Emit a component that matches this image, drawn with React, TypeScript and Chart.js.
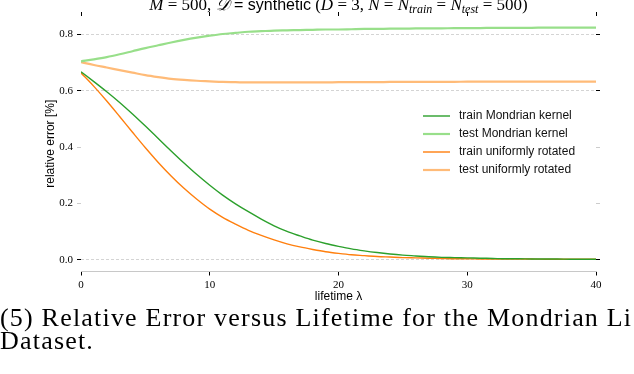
import React, { useEffect, useRef } from 'react';
import { Chart, registerables } from 'chart.js';

Chart.register(...registerables);

const lambdas = [0, 1, 2, 3, 4, 5, 6, 7, 8, 9, 10, 11, 12, 13, 14, 15, 16, 17, 18, 19, 20, 21, 22, 23, 24, 25, 26, 27, 28, 29, 30, 31, 32, 33, 34, 35, 36, 37, 38, 39, 40];

const trainMondrian = [0.668, 0.633, 0.597, 0.559, 0.518, 0.475, 0.431, 0.387, 0.344, 0.303, 0.265, 0.230, 0.199, 0.171, 0.145, 0.121, 0.101, 0.085, 0.070, 0.058, 0.048, 0.039, 0.032, 0.026, 0.021, 0.017, 0.014, 0.011, 0.009, 0.008, 0.007, 0.006, 0.005, 0.004, 0.004, 0.003, 0.003, 0.003, 0.002, 0.002, 0.002];
const testMondrian = [0.705, 0.712, 0.720, 0.730, 0.741, 0.752, 0.762, 0.772, 0.781, 0.789, 0.796, 0.802, 0.806, 0.810, 0.812, 0.814, 0.815, 0.816, 0.817, 0.818, 0.818, 0.819, 0.820, 0.820, 0.821, 0.821, 0.822, 0.822, 0.822, 0.823, 0.823, 0.823, 0.824, 0.824, 0.824, 0.824, 0.825, 0.825, 0.825, 0.825, 0.825];
const trainRotated = [0.664, 0.616, 0.564, 0.509, 0.453, 0.398, 0.346, 0.298, 0.254, 0.215, 0.180, 0.151, 0.127, 0.105, 0.087, 0.071, 0.057, 0.046, 0.037, 0.029, 0.023, 0.018, 0.015, 0.012, 0.010, 0.008, 0.007, 0.006, 0.005, 0.004, 0.004, 0.003, 0.003, 0.003, 0.003, 0.003, 0.002, 0.002, 0.002, 0.002, 0.002];
const testRotated = [0.702, 0.692, 0.683, 0.674, 0.665, 0.656, 0.649, 0.643, 0.639, 0.636, 0.634, 0.632, 0.631, 0.630, 0.630, 0.630, 0.630, 0.630, 0.630, 0.630, 0.631, 0.631, 0.631, 0.631, 0.632, 0.632, 0.632, 0.632, 0.632, 0.632, 0.633, 0.633, 0.633, 0.633, 0.633, 0.633, 0.633, 0.633, 0.633, 0.633, 0.633];

const seriesLabels = ['train Mondrian kernel', 'test Mondrian kernel', 'train uniformly rotated', 'test uniformly rotated'];
const seriesColors = ['#2ca02c', '#98df8a', '#ff7f0e', '#ffbb78'];
const seriesWidths = [1.4, 2.2, 1.4, 2.2];

const xTicks = [0, 10, 20, 30, 40];
const yTicks = [0.0, 0.2, 0.4, 0.6, 0.8];
const yMin = -0.0413;
const yMax = 0.866;

const xTitle = 'lifetime λ';
const yTitle = 'relative error [%]';
const captionLines = ['(5) Relative Error versus Lifetime for the Mondrian Li', 'Dataset.'];

// title pieces: [text, font kind, baseline shift]
const titleParts: [string, string, number][] = [
  ['M', 'it', 0],
  [' = 500, ', 'rm', 0],
  ['𝒟', 'it', 0],
  [' = synthetic', 'sf', 0],
  [' (', 'rm', 0],
  ['D', 'it', 0],
  [' = 3, ', 'rm', 0],
  ['N', 'it', 0],
  [' = ', 'rm', 0],
  ['N', 'it', 0],
  ['train', 'sub', 3],
  [' = ', 'rm', 0],
  ['N', 'it', 0],
  ['test', 'sub', 3],
  [' = 500)', 'rm', 0],
];

const fonts: Record<string, string> = {
  it: 'italic 17px "Liberation Serif"',
  rm: '17px "Liberation Serif"',
  sf: '16px "Liberation Sans"',
  sub: 'italic 12px "Liberation Serif"',
};

const decorPlugin = {
  id: 'decor',
  afterDraw(chart: any) {
    const ctx = chart.ctx;
    const area = chart.chartArea;
    ctx.save();
    // title
    let total = 0;
    for (const [t, f] of titleParts) {
      ctx.font = fonts[f];
      total += ctx.measureText(t).width;
    }
    let x = (area.left + area.right) / 2 - total / 2;
    const baseY = 10;
    ctx.fillStyle = '#000';
    ctx.textBaseline = 'alphabetic';
    ctx.textAlign = 'left';
    for (const [t, f, dy] of titleParts) {
      ctx.font = fonts[f];
      ctx.fillText(t, x, baseY + dy);
      x += ctx.measureText(t).width;
    }
    // legend
    const lx = area.left + 342;
    const ly = area.top + 100;
    ctx.font = '12px "Liberation Sans"';
    ctx.textBaseline = 'middle';
    chart.data.datasets.forEach((ds: any, i: number) => {
      const y = ly + i * 18;
      ctx.strokeStyle = ds.borderColor;
      ctx.lineWidth = ds.borderWidth;
      ctx.beginPath();
      ctx.moveTo(lx, y);
      ctx.lineTo(lx + 27, y);
      ctx.stroke();
      ctx.fillStyle = '#111';
      ctx.fillText(ds.label, lx + 36, y);
    });
    ctx.restore();
  },
};

const tickColorFor = (v: number) => (Math.abs(v - 0.2) < 1e-6 || Math.abs(v - 0.4) < 1e-6 ? '#cccccc' : '#000');
const gridColorFor = (v: number) => (Math.abs(v - 0.2) < 1e-6 || Math.abs(v - 0.4) < 1e-6 ? 'rgba(0,0,0,0)' : '#d4d4d4');

export default function App() {
  const ref = useRef<HTMLCanvasElement | null>(null);
  useEffect(() => {
    if (!ref.current) return;
    const series = [trainMondrian, testMondrian, trainRotated, testRotated];
    const chart = new Chart(ref.current, {
      type: 'line',
      data: {
        datasets: series.map((vals, i) => ({
          label: seriesLabels[i],
          data: lambdas.map((l, j) => ({ x: l, y: vals[j] })),
          borderColor: seriesColors[i],
          backgroundColor: seriesColors[i],
          borderWidth: seriesWidths[i],
          pointRadius: 0,
          fill: false,
          cubicInterpolationMode: 'monotone' as const,
        })),
      },
      options: {
        animation: false,
        responsive: false,
        devicePixelRatio: 1,
        layout: { padding: { left: 43, right: 34, top: 12, bottom: 70 } },
        plugins: { legend: { display: false }, title: { display: false }, tooltip: { enabled: false } },
        scales: {
          x: {
            type: 'linear',
            position: 'bottom',
            min: 0,
            max: 40,
            bounds: 'data',
            afterBuildTicks: (s: any) => { s.ticks = xTicks.map((v) => ({ value: v })); },
            afterFit: (s: any) => { s.height = 32.5; },
            ticks: { font: { family: 'Liberation Serif', size: 11 }, color: '#000', padding: 3, maxRotation: 0, callback: (v: any) => String(v) },
            grid: { drawOnChartArea: false, drawTicks: true, tickLength: 4, tickColor: '#000', tickWidth: 1 },
            border: { display: true, color: '#c8c8c8', dash: [2, 2], width: 1 },
            title: { display: true, text: xTitle, font: { family: 'Liberation Sans', size: 12 }, color: '#000', padding: 0 },
          },
          xTop: {
            type: 'linear',
            axis: 'x',
            position: 'top',
            min: 0,
            max: 40,
            bounds: 'data',
            afterBuildTicks: (s: any) => { s.ticks = xTicks.map((v) => ({ value: v })); },
            afterFit: (s: any) => { s.height = 4; },
            ticks: { display: false },
            grid: { drawOnChartArea: false, drawTicks: true, tickLength: 4, tickColor: '#000' },
            border: { display: false },
          },
          y: {
            type: 'linear',
            position: 'left',
            min: yMin,
            max: yMax,
            bounds: 'data',
            afterBuildTicks: (s: any) => { s.ticks = yTicks.map((v) => ({ value: v })); },
            afterFit: (s: any) => { s.width = 38; },
            ticks: { font: { family: 'Liberation Serif', size: 11 }, color: '#000', padding: 4, callback: (v: any) => Number(v).toFixed(1) },
            grid: {
              drawOnChartArea: true,
              drawTicks: true,
              tickLength: 4,
              color: (c: any) => gridColorFor(c.tick ? c.tick.value : 0),
              tickColor: (c: any) => tickColorFor(c.tick ? c.tick.value : 0),
              lineWidth: 1,
            },
            border: { display: false, dash: [3, 2] },
            title: { display: true, text: yTitle, font: { family: 'Liberation Sans', size: 12 }, color: '#000', padding: 0 },
          },
          yRight: {
            type: 'linear',
            axis: 'y',
            position: 'right',
            min: yMin,
            max: yMax,
            bounds: 'data',
            afterBuildTicks: (s: any) => { s.ticks = yTicks.map((v) => ({ value: v })); },
            afterFit: (s: any) => { s.width = 4; },
            ticks: { display: false },
            grid: { drawOnChartArea: false, drawTicks: true, tickLength: 4, tickColor: (c: any) => tickColorFor(c.tick ? c.tick.value : 0) },
            border: { display: false },
          },
        },
      } as any,
      plugins: [decorPlugin],
    });
    return () => chart.destroy();
  }, []);

  return (
    <div style={{ position: 'fixed', left: 0, top: 0, width: 634, height: 374, overflow: 'hidden', background: '#fff' }}>
      <canvas ref={ref} width={634} height={374} style={{ position: 'absolute', left: 0, top: 0, width: 634, height: 374 }} />
      {captionLines.map((line, i) => (
        <div
          key={i}
          style={{
            position: 'absolute',
            left: 0,
            top: 305.5 + i * 23,
            whiteSpace: 'nowrap',
            fontFamily: '"Liberation Serif", serif',
            fontSize: 26,
            lineHeight: '23px',
            letterSpacing: 1.2,
            color: '#000',
          }}
        >
          {line}
        </div>
      ))}
    </div>
  );
}
